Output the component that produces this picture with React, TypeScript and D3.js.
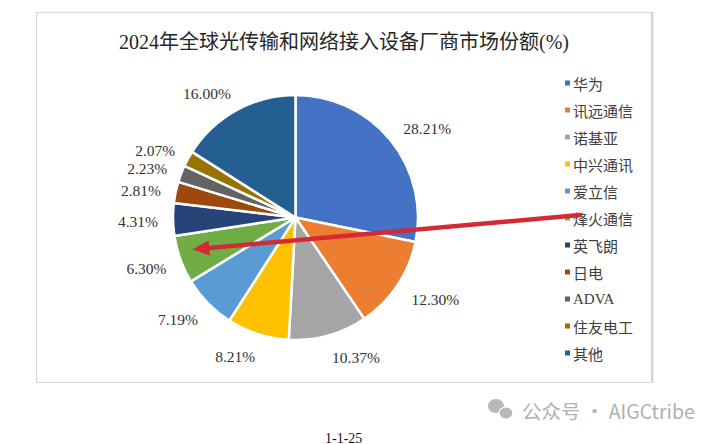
import React from "react";
import * as d3 from "d3";

const title = "2024年全球光传输和网络接入设备厂商市场份额(%)";
const vendors = ["华为", "讯远通信", "诺基亚", "中兴通讯", "爱立信", "烽火通信", "英飞朗", "日电", "ADVA", "住友电工", "其他"];
const shares = [28.21, 12.3, 10.37, 8.21, 7.19, 6.3, 4.31, 2.81, 2.23, 2.07, 16.0];
const colors = ["#4472C4", "#ED7D31", "#A5A5A5", "#FFC000", "#5B9BD5", "#70AD47", "#264478", "#9E480E", "#636363", "#997300", "#255E91"];
const highlighted = "烽火通信";
const footerText = "1-1-25";
const watermark = "公众号 · AIGCtribe";

const W = 720;
const H = 444;
const cx = 295.5;
const cy = 217.5;
const R = 122.5;
const labelGap = 18;
const labelFont = 15.5;

export default function App() {
  const pie = d3.pie<number>().sort(null).value((d) => d).startAngle(0).endAngle(Math.PI * 2);
  const arcs = pie(shares);
  const arcGen = d3.arc<d3.PieArcDatum<number>>().innerRadius(0).outerRadius(R);

  const legendY = d3.scalePoint<string>().domain(vendors).range([83, 353]);

  // arrow pointing into highlighted slice
  const hi = arcs[vendors.indexOf(highlighted)];
  const hiMid = (hi.startAngle + hi.endAngle) / 2 + 0.05;
  const tipR = 108;
  const tipX = cx + tipR * Math.sin(hiMid);
  const tipY = cy - tipR * Math.cos(hiMid);
  const startX = 580;
  const startY = legendY(highlighted)! - 3;
  const ang = Math.atan2(startY - tipY, startX - tipX);
  const headLen = 17;
  const headHalf = 7.5;
  const bx = tipX + headLen * Math.cos(ang);
  const by = tipY + headLen * Math.sin(ang);
  const px = -Math.sin(ang);
  const py = Math.cos(ang);

  return (
    <svg
      width={W}
      height={H}
      style={{ position: "absolute", left: 0, top: 0, background: "#fff" }}
      fontFamily="'Liberation Serif', 'Noto Sans CJK SC', serif"
    >
      <rect x={0} y={0} width={W} height={H} fill="#fff" />
      <rect x={36.5} y={12.5} width={615} height={370} fill="#fff" stroke="#d9d9d9" strokeWidth={1.2} />
      <line x1={652.5} y1={12} x2={652.5} y2={383} stroke="#cfcfcf" strokeWidth={1.5} />

      <text x={344} y={42} textAnchor="middle" dominantBaseline="central" fontSize={20} fill="#262626">
        {title}
      </text>

      <g>
        {arcs.map((a, i) => (
          <path key={i} d={arcGen(a)!} transform={`translate(${cx},${cy})`} fill={colors[i]} stroke="#fff" strokeWidth={2.5} strokeLinejoin="round" />
        ))}
      </g>

      <g>
        {arcs.map((a, i) => {
          const mid = (a.startAngle + a.endAngle) / 2;
          const s = Math.sin(mid);
          const c = Math.cos(mid);
          const ax = cx + (R + labelGap) * s;
          const ay = cy - (R + labelGap) * c;
          const right = s >= 0;
          return (
            <text
              key={i}
              x={right ? ax - 1 : ax + 3}
              y={ay + 2 - 3 * c}
              textAnchor={right ? "start" : "end"}
              dominantBaseline="central"
              fontSize={labelFont}
              fill="#333"
            >
              {shares[i].toFixed(2) + "%"}
            </text>
          );
        })}
      </g>

      <g>
        {vendors.map((v, i) => (
          <g key={v}>
            <rect x={565} y={legendY(v)! - 2.5} width={5} height={5} fill={colors[i]} />
            <text
              x={573}
              y={legendY(v)!}
              dominantBaseline="central"
              fontSize={15}
              fill="#404040"
              fontFamily={/^[A-Za-z]+$/.test(v) ? "'Liberation Serif', serif" : "'Noto Sans CJK SC', sans-serif"}
            >
              {v}
            </text>
          </g>
        ))}
      </g>

      <g>
        <line x1={startX} y1={startY} x2={bx} y2={by} stroke="#d42a34" strokeWidth={4.5} strokeLinecap="round" />
        <path
          d={`M${tipX},${tipY} L${bx + px * headHalf},${by + py * headHalf} L${bx - px * headHalf},${by - py * headHalf} Z`}
          fill="#d42a34"
        />
      </g>

      <g fill="#b8b8b8">
        <ellipse cx={496} cy={406} rx={8} ry={7} />
        <ellipse cx={506} cy={413} rx={7} ry={6} stroke="#fff" strokeWidth={1.2} />
      </g>
      <text x={522} y={410} dominantBaseline="central" fontSize={19.5} fill="#b0b0b0" fontFamily="'Noto Sans CJK SC', 'Noto Sans', sans-serif">
        {watermark}
      </text>

      <text x={325} y={438} dominantBaseline="central" fontSize={14} fill="#111">
        {footerText}
      </text>
    </svg>
  );
}
